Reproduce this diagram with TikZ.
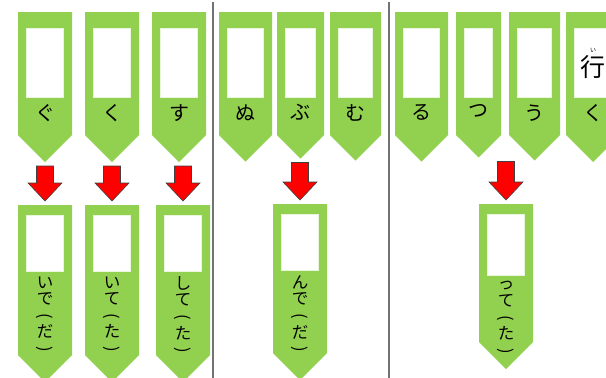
\documentclass[tikz,border=0pt]{standalone}
\usepackage{fontspec}
\newfontfamily\jp{Noto Sans CJK JP}
\usetikzlibrary{calc,positioning}
\definecolor{midori}{HTML}{92D050}
\tikzset{
  fuda/.style={fill=midori},
  slot/.style={fill=white, draw=white!80!midori, line width=0.5pt, inner sep=0pt},
  kana/.style={font=\jp\fontsize{20}{20}\selectfont, inner sep=0pt},
  tate/.style={font=\jp\fontsize{16.5}{16.6}\selectfont, align=center, inner sep=0pt},
  kanji/.style={font=\jp\fontsize{25}{25}\selectfont, inner sep=0pt},
  ruby/.style={font=\jp\fontsize{6}{6}\selectfont, inner sep=0pt},
  yajirushi/.style={fill=red, draw=black!75, line width=0.6pt},
  sen/.style={draw=black!55, line width=1.2pt}
}
\newcommand{\hiraki}{\rotatebox[origin=c]{-90}{(}}
\newcommand{\toji}{\rotatebox[origin=c]{-90}{)}}
% name, left, right, top, slot top, slot bottom, body bottom
\newcommand{\fuda}[7]{%
  \fill[fuda] (#2,#4) -- (#3,#4) -- (#3,#7) -- ({(#2+#3)/2},{#7+(#3-#2)/2}) -- (#2,#7) -- cycle;
  \node[slot, minimum width={#3-#2-17}, minimum height={#6-#5}] (#1) at ({(#2+#3)/2},{(#5+#6)/2}) {};
  \coordinate (#1-top) at ({(#2+#3)/2},#4);
  \coordinate (#1-tip) at ({(#2+#3)/2},{#7+(#3-#2)/2});
}
% from upper tag to lower tag
\newcommand{\shita}[2]{%
  \coordinate (s) at ($(#2-top |- #1-tip)+(0,4)$);
  \coordinate (e) at ($(#2-top)+(0,-4)$);
  \draw[yajirushi] ($(s)+(-8.5,0)$) -- ($(s)+(8.5,0)$) -- ($(e)+(8.5,-18)$) -- ($(e)+(17,-18)$)
    -- (e) -- ($(e)+(-17,-18)$) -- ($(e)+(-8.5,-18)$) -- cycle;
}
\begin{document}
\begin{tikzpicture}[x=1pt,y=-1pt]
  \clip (0,0) rectangle (606,378);
  % kugiri
  \draw[sen] (213,2) -- (213,378);
  \draw[sen] (389,2) -- (389,378);
  % ue no fuda
  \fuda{gu}{18}{72}{12}{28}{97}{135}
  \fuda{ku}{85}{139}{12}{28}{97}{135}
  \fuda{su}{152}{206}{12}{28}{97}{135}
  \fuda{nu}{219}{272}{12}{28}{97}{135}
  \fuda{bu}{277}{324}{12}{28}{97}{135}
  \fuda{mu}{330}{381}{12}{28}{97}{135}
  \fuda{ru}{395}{448}{12}{28}{97}{135}
  \fuda{tsu}{456}{501}{12}{28}{97}{135}
  \fuda{u}{509}{560}{12}{28}{97}{135}
  \fuda{iku}{566}{620}{12}{28}{97}{135}
  \node[kana, below=7pt of gu] (gu-kana) {ぐ};
  \node[kana, below=7pt of ku] (ku-kana) {く};
  \node[kana, below=7pt of su] (su-kana) {す};
  \node[kana, below=7pt of nu] (nu-kana) {ぬ};
  \node[kana, below=7pt of bu] (bu-kana) {ぶ};
  \node[kana, below=7pt of mu] (mu-kana) {む};
  \node[kana, below=7pt of ru] (ru-kana) {る};
  \node[kana, below=7pt of tsu] (tsu-kana) {つ};
  \node[kana, below=7pt of u] (u-kana) {う};
  \node[kana, below=7pt of iku] (iku-kana) {く};
  \node[kanji] (iku-kanji) at ($(iku)+(0,5)$) {行};
  \node[ruby, above=3pt of iku-kanji] (iku-ruby) {い};
  % shita no fuda
  \fuda{ide}{18}{72}{205}{215}{271}{355}
  \fuda{ite}{85}{139}{205}{215}{271}{355}
  \fuda{shite}{156}{210}{205}{215}{271}{355}
  \fuda{nde}{273}{327}{204}{214}{270}{353}
  \fuda{tte}{479}{533}{204}{214}{275}{342}
  \node[tate, below=5pt of ide] (ide-kana) {い\\で\\\hiraki\\だ\\\toji};
  \node[tate, below=5pt of ite] (ite-kana) {い\\て\\\hiraki\\た\\\toji};
  \node[tate, below=5pt of shite] (shite-kana) {し\\て\\\hiraki\\た\\\toji};
  \node[tate, below=5pt of nde] (nde-kana) {ん\\で\\\hiraki\\だ\\\toji};
  \node[tate, below=6pt of tte] (tte-kana) {っ\\て\\\hiraki\\た\\\toji};
  % yajirushi
  \shita{gu}{ide}
  \shita{ku}{ite}
  \shita{su}{shite}
  \shita{bu}{nde}
  \shita{tsu}{tte}
\end{tikzpicture}
\end{document}
